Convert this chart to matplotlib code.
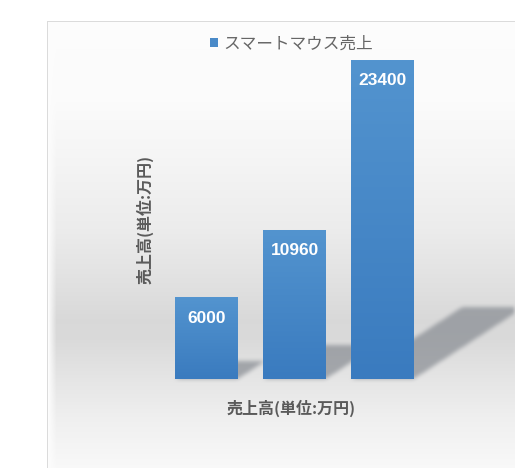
import numpy as np
import matplotlib
matplotlib.use("Agg")
import matplotlib.pyplot as plt
from matplotlib.path import Path

plt.rcParams['font.family'] = ['Noto Sans CJK JP', 'DejaVu Sans']

# データ
categories = ["A", "B", "C"]
sales = [6000, 10960, 23400]
series_name = "スマートマウス売上"
axis_title = "売上高(単位:万円)"

W, H = 515, 468
text_color = "#5a5a5a"
bar_color = "#4a8ac8"

fig = plt.figure(figsize=(W / 100, H / 100), dpi=100)
bg_ax = fig.add_axes([0, 0, 1, 1], zorder=0)
bg_ax.axis("off")
ax = fig.add_axes([162.5 / W, (H - 379) / H, 264 / W, 334 / H], zorder=1)
ax.set_facecolor("none")

x = np.arange(len(categories))
width = 0.705
bars = ax.bar(x, sales, width=width, color=bar_color, zorder=2)

# 棒のグラデーション
top_c = np.array([0x53, 0x94, 0xcf]) / 255
bot_c = np.array([0x3a, 0x7b, 0xbf]) / 255
t = np.linspace(0, 1, 64)[:, None]
grad = (top_c * (1 - t) + bot_c * t)[:, None, :]
for b in bars:
    im = ax.imshow(grad, extent=(b.get_x(), b.get_x() + b.get_width(), 0, b.get_height()),
                   aspect="auto", zorder=3, interpolation="bilinear")
    im.set_clip_path(b)
ax.set_xlim(-0.5, len(categories) - 0.5)
ax.set_ylim(0, 24500)

for s in ax.spines.values():
    s.set_visible(False)
ax.set_xticks([])
ax.set_yticks([])

# 値ラベル
for xi, v in zip(x, sales):
    ax.annotate(f"{v}", (xi, v), xytext=(0, -21 * 0.72), textcoords="offset points",
                ha="center", va="center", color="white", fontweight="bold",
                fontsize=12.5, family="Liberation Sans", zorder=5)

# 背景のグラデーション
rows = np.arange(H) + 0.5
prof_y = [21, 100, 160, 230, 280, 320, 340, 380, 420, 468]
prof_v = [0.99, 0.985, 0.96, 0.925, 0.885, 0.85, 0.855, 0.9, 0.94, 0.975]
col = np.interp(rows, prof_y, prof_v)
img = np.repeat(col[:, None], W, axis=1)
cols = np.arange(W)
edge = np.clip((cols - 48) / 8.0, 0, 1)
img = img * edge[None, :] + 0.99 * (1 - edge[None, :])

# 影
yy, xx = np.mgrid[0:H, 0:W]
pts = np.column_stack([xx.ravel() + 0.5, H - (yy.ravel() + 0.5)])
mask = np.zeros(H * W)
trans = ax.transData
for b in bars:
    L, B = trans.transform((b.get_x(), 0))
    R, T = trans.transform((b.get_x() + b.get_width(), b.get_height()))
    h = T - B
    dx, dy = 0.348 * h, 0.226 * h
    poly = Path([(L, B), (R, B), (R + dx, B + dy), (L + dx, B + dy), (L, B)])
    mask = np.maximum(mask, poly.contains_points(pts).astype(float))
mask = mask.reshape(H, W)

def blur(a, k):
    ker = np.ones(k) / k
    a = np.apply_along_axis(lambda r: np.convolve(r, ker, mode="same"), 1, a)
    a = np.apply_along_axis(lambda r: np.convolve(r, ker, mode="same"), 0, a)
    return a

mask = blur(blur(mask, 5), 5)
alpha = 0.6 * mask
rgb = np.repeat(img[:, :, None], 3, axis=2)
sh = np.array([0.47, 0.49, 0.52])
rgb = rgb * (1 - alpha[:, :, None]) + sh * alpha[:, :, None]

# 枠の外は白、枠線
rgb[:21, :, :] = 1.0
rgb[:, :47, :] = 1.0
rgb[21, 47:, :] = 0.86
rgb[21:, 47, :] = 0.86

bg_ax.imshow(np.clip(rgb, 0, 1), extent=(0, W, H, 0), interpolation="nearest", aspect="auto")
bg_ax.set_xlim(0, W)
bg_ax.set_ylim(H, 0)

# タイトル・凡例
fig.text(145 / W, 1 - 219 / H, axis_title, rotation=90, ha="center", va="center",
         fontsize=11.5, color=text_color, fontweight="bold")
fig.text(291 / W, 1 - 408 / H, axis_title, ha="center", va="center",
         fontsize=11.5, color=text_color, fontweight="bold")
fig.legend([bars], [series_name], loc="center", bbox_to_anchor=(291 / W, 1 - 44 / H),
           frameon=False, handlelength=0.5, handleheight=0.5, handletextpad=0.3,
           fontsize=12, labelcolor="#666666", borderpad=0)

fig.savefig("out.png", dpi=100)
